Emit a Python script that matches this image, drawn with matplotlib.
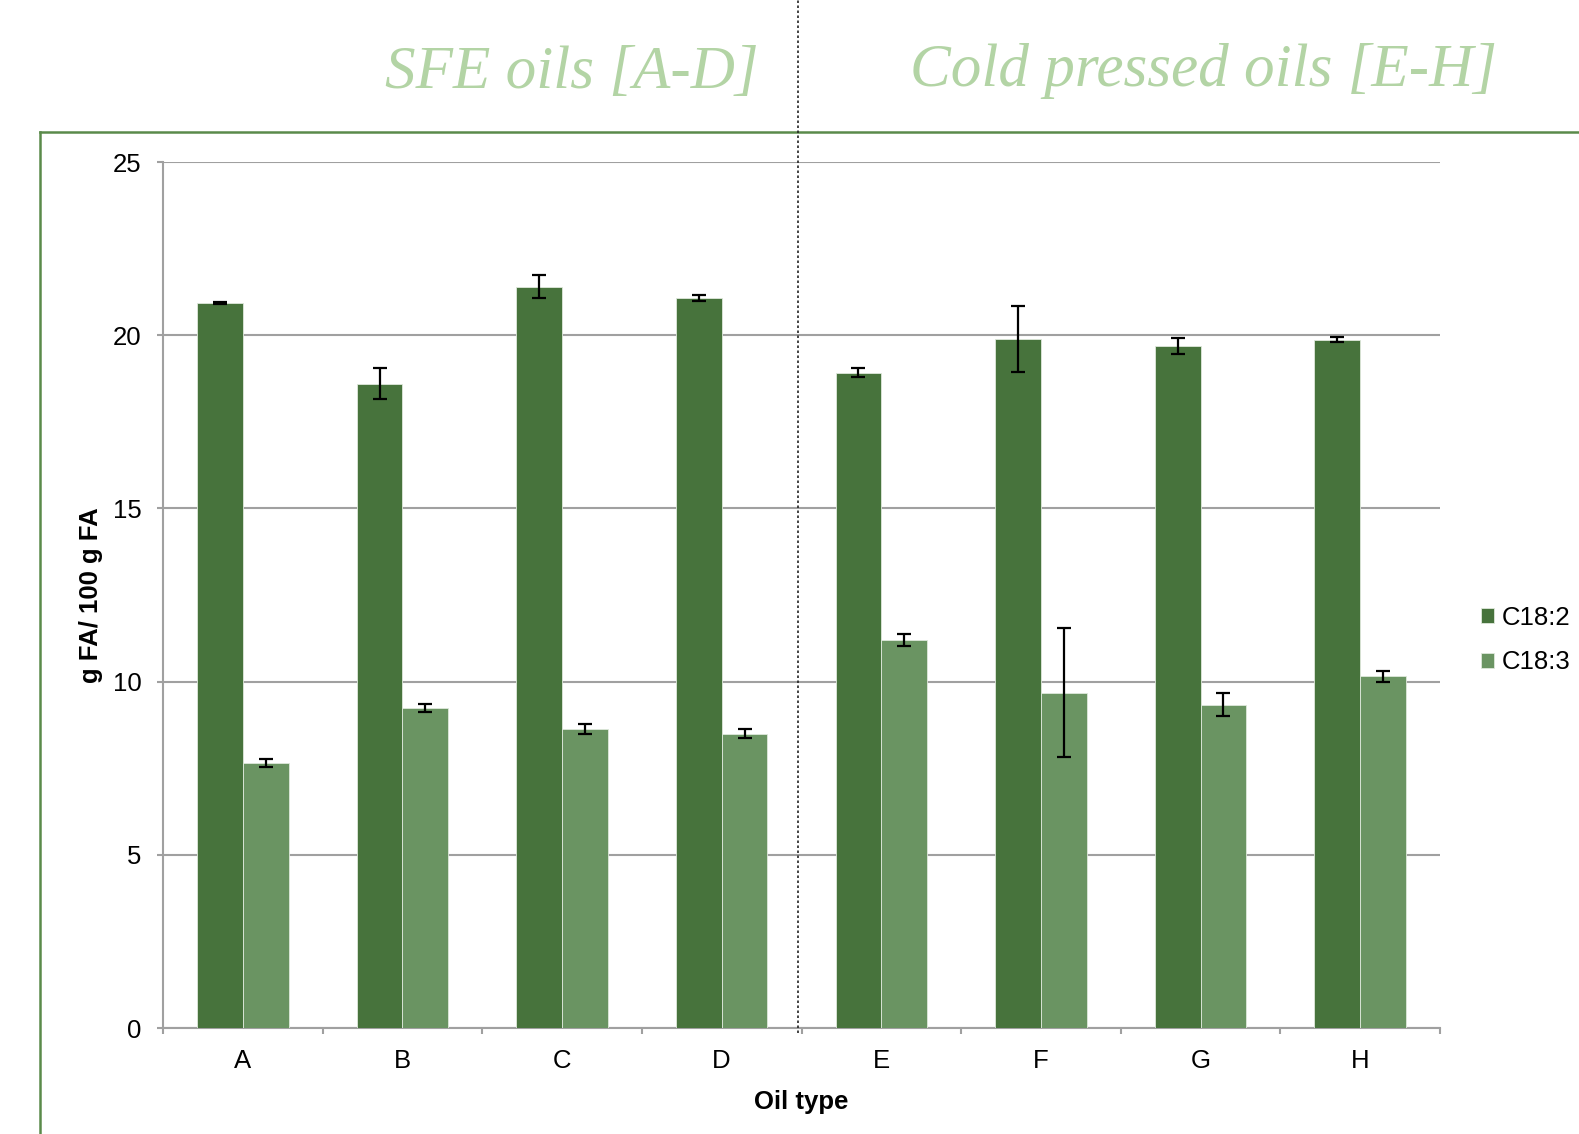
import numpy as np
import matplotlib
matplotlib.use('Agg')
from matplotlib import pyplot as plt
from matplotlib.lines import Line2D

# Oil types and fatty acid values (g FA / 100 g FA)
oils = ['A', 'B', 'C', 'D', 'E', 'F', 'G', 'H']
c182 = [20.93, 18.60, 21.40, 21.08, 18.92, 19.88, 19.68, 19.87]
c182_err = [0.02, 0.44, 0.34, 0.08, 0.13, 0.95, 0.23, 0.07]
c183 = [7.65, 9.24, 8.63, 8.49, 11.19, 9.68, 9.33, 10.15]
c183_err = [0.12, 0.12, 0.15, 0.13, 0.17, 1.86, 0.33, 0.15]

dark = '#47733c'
light = '#6a9462'
title_green = '#b3d4a5'

plt.rcParams['font.family'] = ['Liberation Sans', 'DejaVu Sans']
fs = 18.5

W, H = 1579, 1134
fig = plt.figure(figsize=(W / 100, H / 100), dpi=100)
ax = fig.add_axes([163 / W, 1 - 1028 / H, (1440 - 163) / W, (1028 - 162) / H])

x = np.arange(len(oils))
bw = 0.287
err_kw = dict(ecolor='black', elinewidth=1.6, capsize=5, capthick=1.6)
ax.bar(x - bw / 2, c182, bw, color=dark, yerr=c182_err, error_kw=err_kw,
       label='C18:2', zorder=3, edgecolor='#dfe9dc', linewidth=0.6)
ax.bar(x + bw / 2, c183, bw, color=light, yerr=c183_err, error_kw=err_kw,
       label='C18:3', zorder=3, edgecolor='#dfe9dc', linewidth=0.6)

ax.set_xlim(-0.5, len(oils) - 0.5)
ax.set_ylim(0, 25)
ax.set_yticks([0, 5, 10, 15, 20, 25])
ax.yaxis.grid(True, color='#a0a0a0', linewidth=1.5, zorder=0)
ax.set_axisbelow(True)

# category labels centred, tick marks on the boundaries (Excel style)
ax.set_xticks(np.arange(-0.5, len(oils), 1.0))
ax.set_xticklabels([])
ax.set_xticks(x, minor=True)
ax.set_xticklabels(oils, minor=True, fontsize=fs)
ax.tick_params(axis='x', which='minor', length=0, pad=15)
ax.tick_params(axis='x', which='major', length=4.5, width=1.5, color='#a0a0a0', direction='out')
ax.tick_params(axis='y', length=4.5, width=1.5, color='#a0a0a0', labelsize=fs, pad=11)

for side in ['top', 'right']:
    ax.spines[side].set_visible(False)
for side in ['left', 'bottom']:
    ax.spines[side].set_color('#a0a0a0')
    ax.spines[side].set_linewidth(1.5)

ax.set_xlabel('Oil type', fontsize=fs, fontweight='bold', labelpad=12)
ax.set_ylabel('g FA/ 100 g FA', fontsize=fs, fontweight='bold', labelpad=7)

leg = ax.legend(loc='center left', bbox_to_anchor=(1.014, 0.448), frameon=False,
                fontsize=fs, handlelength=0.5, handleheight=0.5, handletextpad=0.3,
                labelspacing=0.8)

# green frame lines and dotted separator
fig.add_artist(Line2D([40 / W, 40 / W], [0, 1 - 132 / H], color='#5a8a4a', linewidth=1.8))
fig.add_artist(Line2D([40 / W, 1], [1 - 132 / H, 1 - 132 / H], color='#5a8a4a', linewidth=1.8))
fig.add_artist(Line2D([798 / W, 798 / W], [1 - 1033 / H, 1], color='#222222',
                      linewidth=1.2, linestyle=(0, (1.5, 1.5))))

fig.text(572 / W, 1 - 73 / H, 'SFE oils [A-D]', color=title_green, fontsize=44,
         family='Liberation Serif', style='italic', ha='center', va='center')
fig.text(1204 / W, 1 - 71 / H, 'Cold pressed oils [E-H]', color=title_green, fontsize=44,
         family='Liberation Serif', style='italic', ha='center', va='center')

fig.savefig('out.png', dpi=100)
